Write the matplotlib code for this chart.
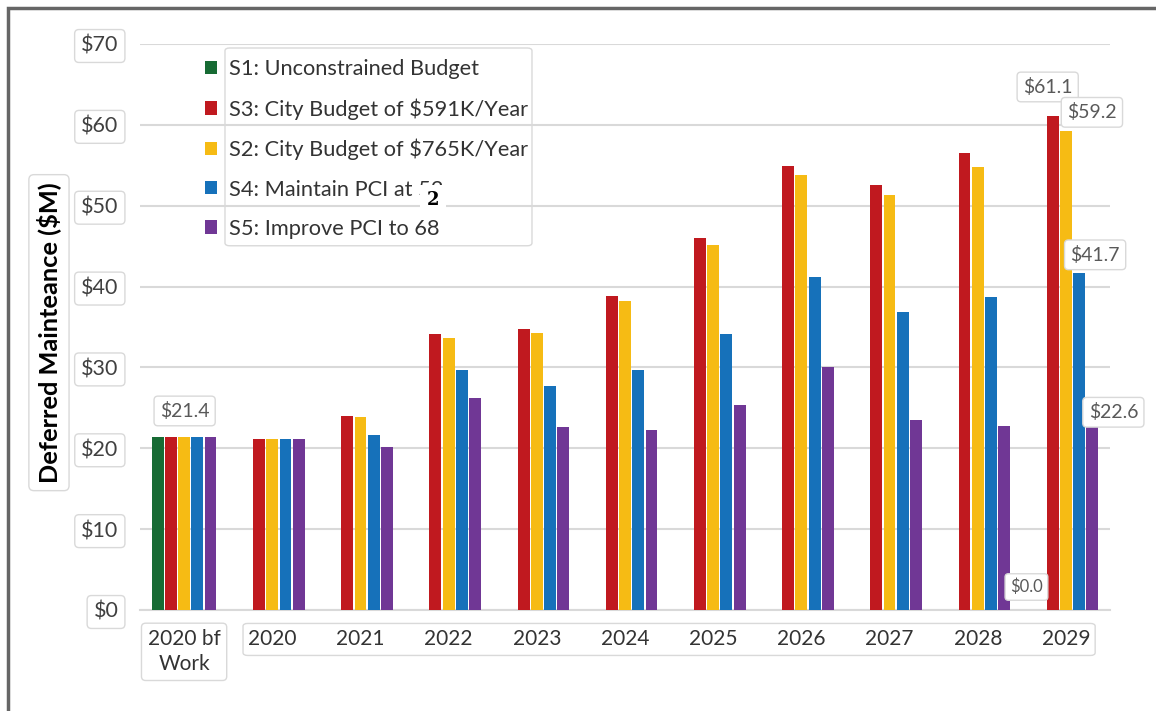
import matplotlib
matplotlib.use('Agg')
import matplotlib.pyplot as plt
import numpy as np
from matplotlib.patches import FancyBboxPatch, Rectangle
from matplotlib.transforms import Bbox

plt.rcParams['font.family'] = ['Lato', 'DejaVu Sans']

# chart data
categories = ['2020 bf\nWork', '2020', '2021', '2022', '2023', '2024',
              '2025', '2026', '2027', '2028', '2029']
s1_unconstrained = [21.4, 0, 0, 0, 0, 0, 0, 0, 0, 0, 0]
s3_budget_591 = [21.4, 21.1, 24.0, 34.1, 34.7, 38.8, 46.0, 54.9, 52.6, 56.5, 61.1]
s2_budget_765 = [21.4, 21.1, 23.9, 33.7, 34.2, 38.2, 45.1, 53.8, 51.3, 54.8, 59.2]
s4_maintain_52 = [21.4, 21.1, 21.6, 29.7, 27.7, 29.7, 34.1, 41.2, 36.9, 38.7, 41.7]
s5_improve_68 = [21.4, 21.1, 20.1, 26.2, 22.6, 22.3, 25.4, 30.0, 23.5, 22.7, 22.6]
series_labels = ['S1: Unconstrained Budget', 'S3: City Budget of $591K/Year',
                 'S2: City Budget of $765K/Year', 'S4: Maintain PCI at 52',
                 'S5: Improve PCI to 68']
y_ticks = [0, 10, 20, 30, 40, 50, 60, 70]

colors = ['#176b34', '#c0191f', '#f6bb14', '#1671ba', '#703795']
series = [s1_unconstrained, s3_budget_591, s2_budget_765, s4_maintain_52, s5_improve_68]

W, H = 1156, 711
fig = plt.figure(figsize=(W / 100, H / 100), dpi=100)
ax = fig.add_axes([140 / W, 1 - 610 / H, 970 / W, (610 - 44) / H])

x = np.arange(len(categories))
slot = 0.15
for i, (vals, col, lab) in enumerate(zip(series, colors, series_labels)):
    ax.bar(x + (i - 2) * slot, vals, width=0.135, color=col, label=lab, zorder=3)

ax.set_xlim(-0.5, 10.5)
ax.set_ylim(0, 70)
ax.set_yticks(y_ticks)
ax.set_yticklabels([f'${v}' for v in y_ticks])
ax.set_xticks(x)
ax.set_xticklabels(categories)
ax.grid(axis='y', color='#d9d9d9', linewidth=1.5, zorder=0)
for s in ['top', 'right', 'left']:
    ax.spines[s].set_visible(False)
ax.spines['bottom'].set_color('#d9d9d9')
ax.spines['bottom'].set_linewidth(1.5)
ax.tick_params(length=0)

box = dict(boxstyle='round,pad=0.3,rounding_size=0.2', facecolor='white',
           edgecolor='#d9d9d9', linewidth=1)
for t in ax.get_yticklabels():
    t.set_fontsize(15.5)
    t.set_color('#404040')
    t.set_bbox(box)
ax.tick_params(axis='y', pad=15.5)
ax.tick_params(axis='x', pad=14)
for i, t in enumerate(ax.get_xticklabels()):
    t.set_fontsize(15)
    t.set_color('#333333')
    t.set_linespacing(1.3)
    if i == 0:
        t.set_bbox(box)

ax.set_ylabel('Deferred Mainteance ($M)', fontsize=18.3, fontweight='bold',
              color='black',
              bbox=dict(boxstyle='round,pad=0.3,rounding_size=0.2', facecolor='white',
                        edgecolor='#d9d9d9', linewidth=1))
ax.yaxis.set_label_coords(-0.081, 0.49)

# data labels
lbl = dict(fontsize=14, color='#595959', ha='center', va='center',
           textcoords='offset pixels', bbox=box, zorder=5)
last = len(categories) - 1
ax.annotate('$21.4', (x[0] - 2 * slot, s1_unconstrained[0]), xytext=(27, 26), **lbl)
ax.annotate('$61.1', (x[last] - slot, s3_budget_591[last]), xytext=(-5, 29), **lbl)
ax.annotate('$59.2', (x[last], s2_budget_765[last]), xytext=(26, 19), **lbl)
ax.annotate('$41.7', (x[last] + slot, s4_maintain_52[last]), xytext=(16, 18), **lbl)
ax.annotate('$22.6', (x[last] + 2 * slot, s5_improve_68[last]), xytext=(21, 15), **lbl)
lbl0 = dict(lbl)
lbl0['fontsize'] = 12
ax.annotate('$0.0', (x[last] - 2 * slot, s1_unconstrained[last]), xytext=(-13, 23), **lbl0)

leg = ax.legend(loc='upper left', bbox_to_anchor=(205 / W, 1 - 59 / H),
                bbox_transform=fig.transFigure, frameon=False, fontsize=15.7,
                handlelength=0.55, handleheight=0.55, handletextpad=0.55,
                labelspacing=0.88, borderpad=0, borderaxespad=0)
for t in leg.get_texts():
    t.set_color('#333333')

fig.canvas.draw()
renderer = fig.canvas.get_renderer()
inv = fig.transFigure.inverted()

# rounded box around legend texts only (markers sit outside it)
bb = Bbox.union([t.get_window_extent(renderer) for t in leg.get_texts()])
x0, y0 = inv.transform((bb.x0 - 4, bb.y0 - 7))
x1, y1 = inv.transform((bb.x1 + 4, bb.y1 + 11))
fig.patches.append(FancyBboxPatch((x0, y0), x1 - x0, y1 - y0,
                                  boxstyle='round,pad=0,rounding_size=0.004',
                                  transform=fig.transFigure, facecolor='none',
                                  edgecolor='#d9d9d9', linewidth=1, zorder=6))

# one shared box around the 2020-2029 tick labels
bb = Bbox.union([t.get_window_extent(renderer) for t in ax.get_xticklabels()[1:]])
x0, y0 = inv.transform((bb.x0 - 5, bb.y0 - 6))
x1, y1 = inv.transform((bb.x1 + 5, bb.y1 + 6))
fig.patches.append(FancyBboxPatch((x0, y0), x1 - x0, y1 - y0,
                                  boxstyle='round,pad=0,rounding_size=0.004',
                                  transform=fig.transFigure, facecolor='none',
                                  edgecolor='#d9d9d9', linewidth=1, zorder=6))

# the stray "2" patch over the S4 legend entry
fig.text(433 / W, 1 - 200 / H, '2', family='DejaVu Serif', fontweight='bold',
         fontsize=13, ha='center', va='center', color='black',
         bbox=dict(boxstyle='square,pad=0.35', facecolor='white', edgecolor='none'),
         zorder=7)

# outer frame
fig.patches.append(Rectangle((8 / W, -0.1), 1.2, 1.1 - 8 / H, transform=fig.transFigure,
                             facecolor='none', edgecolor='#666666', linewidth=2.5))

fig.savefig('out.png', dpi=100)
